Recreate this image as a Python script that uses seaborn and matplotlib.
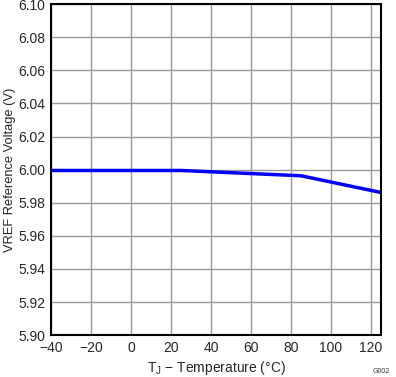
import numpy as np
import pandas as pd
import matplotlib
matplotlib.use('Agg')
import matplotlib.pyplot as plt
import seaborn as sns

# values
temp = [-40, 25, 85, 125]
vref = [5.9995, 5.9995, 5.9963, 5.9862]
x_ticks = [-40, -20, 0, 20, 40, 60, 80, 100, 120]
y_ticks = [5.90, 5.92, 5.94, 5.96, 5.98, 6.00, 6.02, 6.04, 6.06, 6.08, 6.10]

sns.set_style('white')
plt.rcParams['font.family'] = ['Liberation Sans', 'DejaVu Sans']

df = pd.DataFrame({'T': temp, 'V': vref})

fig = plt.figure(figsize=(3.96, 3.77), dpi=100)
ax = fig.add_axes([0.129, 0.111, 0.833, 0.878])
sns.lineplot(data=df, x='T', y='V', ax=ax, color='#0000ff', linewidth=2.5)

ax.set_xlim(-40, 125)
ax.set_ylim(5.90, 6.10)
ax.set_xticks(x_ticks)
ax.set_yticks(y_ticks)
ax.set_xticklabels([str(t).replace('-', '\u2212') for t in x_ticks])
ax.set_yticklabels([f'{v:.2f}' for v in y_ticks])
ax.tick_params(labelsize=10, length=0, pad=4)
ax.grid(True, color='#999999', linewidth=1)
for s in ax.spines.values():
    s.set_color('black')
    s.set_linewidth(1.5)

ax.set_xlabel('T$_\\mathregular{J}$ \u2212 Temperature (\u00b0C)', fontsize=10, labelpad=3)
ax.set_ylabel('VREF Reference Voltage (V)', fontsize=9.3, labelpad=2)
fig.text(0.985, 0.005, 'G002', fontsize=5, ha='right', va='bottom', color='#333333')

fig.savefig('out.png', dpi=100)
